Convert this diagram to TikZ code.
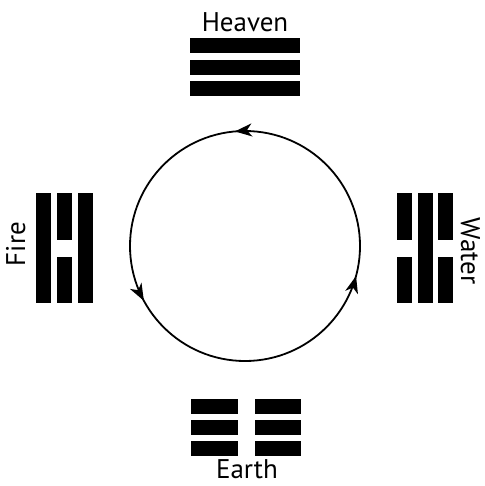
\documentclass[tikz,border=0pt]{standalone}
\usepackage{fontspec}
\setmainfont{PT Sans}
\usepackage{tikz}
\usetikzlibrary{arrows.meta,decorations.markings}
\tikzset{
  x=1pt,y=1pt,
  >=Stealth,
  yang/.pic ={\fill (-55,-7.5) rectangle (55,7.5);},
  yin/.pic  ={\fill (-55,-7.5) rectangle (-8.5,7.5);
              \fill (8.5,-7.5) rectangle (55,7.5);},
  lbl/.style={font=\fontsize{27}{30}\selectfont,inner sep=0pt,anchor=base},
  cyc/.style={line width=1.8pt,postaction=decorate,decoration={markings,
      mark=at position 0.264 with {\arrow{Stealth[length=17pt,width=13pt,inset=5pt]}},
      mark=at position 0.579 with {\arrow{Stealth[length=17pt,width=13pt,inset=5pt]}},
      mark=at position 0.958 with {\arrow{Stealth[length=17pt,width=13pt,inset=5pt]}}}},
}
\begin{document}
\begin{tikzpicture}
\useasboundingbox (0,0) rectangle (484,-486);
% heaven
\foreach \k in {-1,0,1}
  \pic at (245,-67.5+21.5*\k) {yang};
\node[lbl] (heaven) at (245,-32) {Heaven};
% earth
\foreach \k in {-1,0,1}
  \pic at (246,-427+21*\k) {yin};
\node[lbl] (earth) at (247,-478) {Earth};
% fire
\pic[rotate=90] at (43.5,-248) {yang};
\pic[rotate=90] at (64.5,-248) {yin};
\pic[rotate=90] at (85.5,-248) {yang};
\node[lbl,rotate=90] (fire) at (25,-244) {Fire};
% water
\pic[rotate=90] at (404.5,-248) {yin};
\pic[rotate=90] at (425,-248) {yang};
\pic[rotate=90] at (445.5,-248) {yin};
\node[lbl,rotate=-90] (water) at (461,-251) {Water};
% cycle
\coordinate (c) at (245,-246);
\draw[cyc] (c) ++(0:115) arc[start angle=0,end angle=360,radius=115];
\end{tikzpicture}
\end{document}
